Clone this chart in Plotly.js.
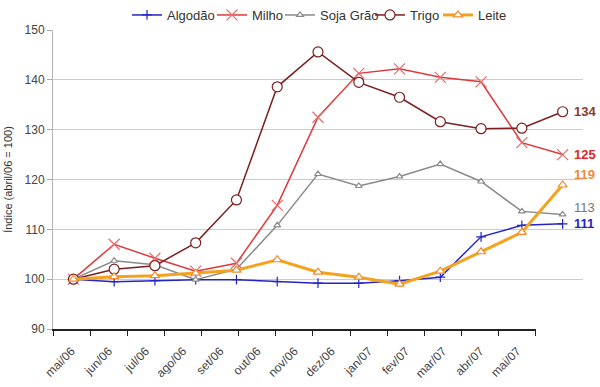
<!DOCTYPE html>
<html><head><meta charset="utf-8">
<script src="https://cdn.plot.ly/plotly-3.0.1.min.js"></script>
<style>html,body{margin:0;padding:0;background:#fff}#chart{width:600px;height:387px}</style>
</head><body><div id="chart"></div>
<script>
const months = ['mai/06','jun/06','jul/06','ago/06','set/06','out/06','nov/06','dez/06','jan/07','fev/07','mar/07','abr/07','mai/07'];
const algodao = [100, 99.5, 99.7, 99.9, 99.9, 99.5, 99.2, 99.2, 99.7, 100.4, 108.5, 110.8, 111.1];
const milho   = [100, 107.0, 104.2, 101.6, 103.2, 114.8, 132.5, 141.3, 142.2, 140.5, 139.6, 127.4, 125.0];
const soja    = [100, 103.7, 102.9, 99.9, 102.0, 110.8, 121.1, 118.7, 120.6, 123.1, 119.6, 113.6, 113.0];
const trigo   = [100, 102.0, 102.7, 107.3, 115.9, 138.6, 145.6, 139.5, 136.5, 131.6, 130.2, 130.3, 133.6];
const leite   = [100, 100.5, 100.7, 101.2, 101.8, 103.9, 101.4, 100.4, 99.0, 101.6, 105.5, 109.4, 118.9];
const yTicks = [90, 100, 110, 120, 130, 140, 150];

const FONT = 'Liberation Sans, Arial, sans-serif';
const series = [
  {name:'Algodão', y:algodao, color:'#2424c4', lw:1.5, sym:'cross-thin-open', ms:7, mc:'#2424c4', fill:'#2424c4', lab:'#2424c4', bold:true, ys:0, lx:127},
  {name:'Milho', y:milho, color:'#e0383a', lw:1.5, sym:'x-thin-open', ms:11, mc:'#e86a6a', fill:'#e86a6a', lab:'#e02424', bold:true, ys:0, lx:212},
  {name:'Soja Grão', y:soja, color:'#8a8a8a', lw:1.5, sym:'triangle-up', ms:6, mc:'#8a8a8a', fill:'#ffffff', lab:'#777777', bold:false, ys:7, lx:280},
  {name:'Trigo', y:trigo, color:'#7b1f1f', lw:1.5, sym:'circle', ms:10, mc:'#7b1f1f', fill:'#ffffff', lab:'#8b3a2e', bold:true, ys:0, lx:370},
  {name:'Leite', y:leite, color:'#f5a21e', lw:3, sym:'triangle-up', ms:8, mc:'#f08a2a', fill:'#ffffff', lab:'#f0883a', bold:true, ys:10, lx:438}
];

const legendKeys = ['legend','legend2','legend3','legend4','legend5'];
const traces = series.map((s, i) => ({
  type:'scatter', mode:'lines+markers', name:s.name, x:months, y:s.y,
  line:{color:s.color, width:s.lw},
  marker:{symbol:s.sym, size:s.ms, color:s.fill, line:{color:s.mc, width:1.2}},
  xaxis:'x', yaxis:'y', hoverinfo:'skip', legend:legendKeys[i]
}));
traces.push({type:'scatter', mode:'lines', x:months, y:months.map(()=>null), xaxis:'x2', yaxis:'y2', showlegend:false, hoverinfo:'skip'});

const annotations = series.map(s => {
  const last = s.y[s.y.length-1];
  return {x:months[months.length-1], y:last, xref:'x', yref:'y', text: s.bold ? '<b>'+Math.round(last)+'</b>' : String(Math.round(last)),
    showarrow:false, xanchor:'left', yanchor:'middle', xshift:9, yshift:s.ys, font:{family:FONT, size:13, color:s.lab}};
});

const layout = {
  width:600, height:387,
  margin:{l:53, r:17, t:27, b:58},
  paper_bgcolor:'#ffffff', plot_bgcolor:'rgba(0,0,0,0)',
  font:{family:FONT, size:13, color:'#444'},
  showlegend:true,
  xaxis:{type:'category', domain:[0,1], range:[-0.5,12.5], showgrid:false, showticklabels:false, ticks:'', showline:false, zeroline:false, fixedrange:true},
  yaxis:{domain:[0,1], range:[90,150], tickvals:yTicks.slice(1), showgrid:true, gridcolor:'#cccccc', gridwidth:1, showticklabels:false, ticks:'', showline:false, zeroline:false},
  xaxis2:{type:'category', domain:[0,0.911], anchor:'y2', range:[-0.5,12.5], showgrid:false, tickson:'boundaries', ticks:'outside', ticklen:5, tickcolor:'#222', tickwidth:1,
    showline:true, linecolor:'#222', linewidth:1.5, tickangle:-45, ticklabelstandoff:9, tickfont:{family:FONT, size:12, color:'#444'}, zeroline:false},
  yaxis2:{domain:[0,1], anchor:'x2', range:[90,150], tickvals:yTicks, showgrid:false, ticks:'outside', ticklen:5, tickcolor:'#aaaaaa',
    showline:true, linecolor:'#b5b5b5', linewidth:1, zeroline:false, tickfont:{family:FONT, size:12, color:'#444'},
    title:{text:'Índice (abril/06 = 100)', font:{family:FONT, size:11, color:'#333'}, standoff:9}},
  annotations:annotations
};
series.forEach((s, i) => {
  layout[legendKeys[i]] = {orientation:'h', xref:'container', yref:'container', x:s.lx/600, y:1.0, xanchor:'left', yanchor:'top',
    font:{family:FONT, size:13, color:'#333'}, itemwidth:30, bgcolor:'rgba(0,0,0,0)', borderwidth:0};
});
Plotly.newPlot('chart', traces, layout, {staticPlot:true, displayModeBar:false});
</script></body></html>
